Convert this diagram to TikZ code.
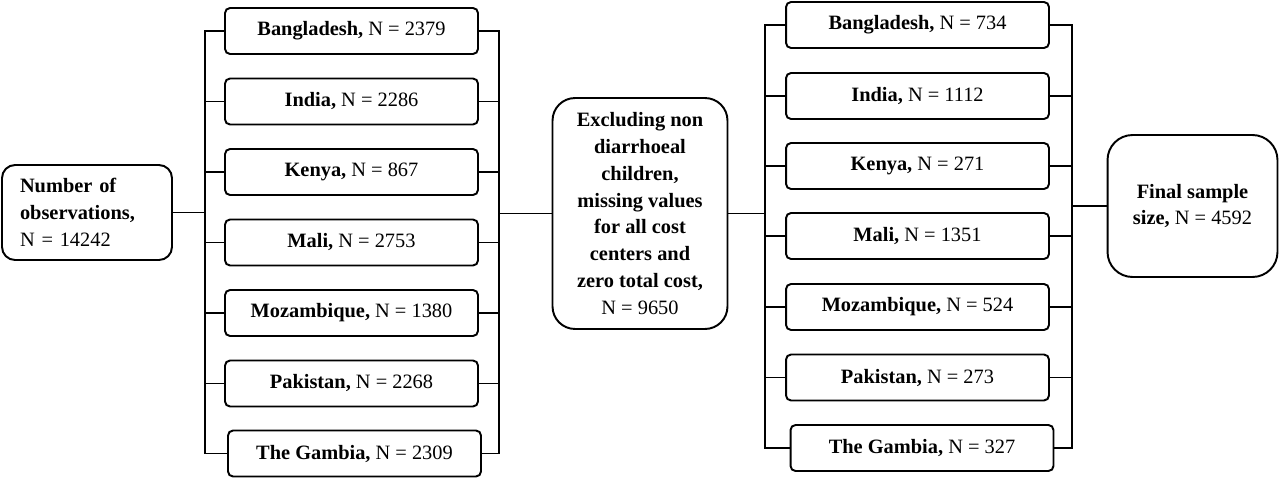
\documentclass[tikz,border=0pt]{standalone}
\usepackage{fontspec}
\setmainfont{Liberation Serif}

\begin{document}
\begin{tikzpicture}[x=0.02cm,y=-0.02cm,line width=1.1pt,line cap=rect,
every node/.style={draw,line cap=butt,font=\fontsize{11.6}{15.3}\selectfont,inner sep=0pt},
country/.style={rounded corners=0.1cm,minimum width=5.06cm,minimum height=0.92cm},
countryB/.style={rounded corners=0.1cm,minimum width=5.26cm,minimum height=0.92cm}]

\useasboundingbox (0,0) rectangle (1280,480);

\node[rounded corners=0.26cm,minimum width=3.4cm,minimum height=1.9cm,
  align=left,text width=2.68cm] (obs) at (87,212.5)
  {\textbf{Number of}\\ \textbf{observations,}\\ N = 14242};

\node[country] (a1) at (351.5,31) {\textbf{Bangladesh,} N = 2379};
\node[country] (a2) at (351.5,101.5) {\textbf{India,} N = 2286};
\node[country] (a3) at (351.5,172) {\textbf{Kenya,} N = 867};
\node[country] (a4) at (351.5,242.5) {\textbf{Mali,} N = 2753};
\node[country] (a5) at (351.5,313) {\textbf{Mozambique,} N = 1380};
\node[country] (a6) at (351.5,383.5) {\textbf{Pakistan,} N = 2268};
\node[country] (a7) at (354.5,453.5) {\textbf{The Gambia,} N = 2309};

\node[rounded corners=0.45cm,minimum width=3.5cm,minimum height=4.62cm,
  align=center] (mid) at (640,213.5)
  {\textbf{Excluding non}\\ \textbf{diarrhoeal}\\ \textbf{children,}\\
   \textbf{missing values}\\ \textbf{for all cost}\\ \textbf{centers and}\\
   \textbf{zero total cost,}\\ N = 9650};

\node[countryB] (b1) at (917.5,25) {\textbf{Bangladesh,} N = 734};
\node[countryB] (b2) at (917.5,96) {\textbf{India,} N = 1112};
\node[countryB] (b3) at (917.5,166) {\textbf{Kenya,} N = 271};
\node[countryB] (b4) at (917.5,236) {\textbf{Mali,} N = 1351};
\node[countryB] (b5) at (917.5,307) {\textbf{Mozambique,} N = 524};
\node[countryB] (b6) at (917.5,377.5) {\textbf{Pakistan,} N = 273};
\node[countryB] (b7) at (922,448) {\textbf{The Gambia,} N = 327};

\node[rounded corners=0.5cm,minimum width=3.4cm,minimum height=2.84cm,
  align=center] (fin) at (1192.5,206)
  {\textbf{Final sample}\\ \textbf{size,} N = 4592};

\coordinate (busA) at (205,0);
\coordinate (busB) at (499,0);
\coordinate (busC) at (765,0);
\coordinate (busD) at (1072,0);

% bus lines
\draw (a1.west -| busA) -- (a7.west -| busA);
\draw (a1.east -| busB) -- (a7.east -| busB);
\draw (b1.west -| busC) -- (b7.west -| busC);
\draw (b1.east -| busD) -- (b7.east -| busD);

% stubs
\draw (obs.east) -- (obs.east -| busA)
(a1.west) -- (a1.west -| busA)
(a2.west) -- (a2.west -| busA)
(a3.west) -- (a3.west -| busA)
(a4.west) -- (a4.west -| busA)
(a5.west) -- (a5.west -| busA)
(a6.west) -- (a6.west -| busA)
(a7.west) -- (a7.west -| busA)
(a1.east) -- (a1.east -| busB)
(a2.east) -- (a2.east -| busB)
(a3.east) -- (a3.east -| busB)
(a4.east) -- (a4.east -| busB)
(a5.east) -- (a5.east -| busB)
(a6.east) -- (a6.east -| busB)
(a7.east) -- (a7.east -| busB)
(mid.west) -- (mid.west -| busB)
(mid.east) -- (mid.east -| busC)
(b1.west) -- (b1.west -| busC)
(b2.west) -- (b2.west -| busC)
(b3.west) -- (b3.west -| busC)
(b4.west) -- (b4.west -| busC)
(b5.west) -- (b5.west -| busC)
(b6.west) -- (b6.west -| busC)
(b7.west) -- (b7.west -| busC)
(b1.east) -- (b1.east -| busD)
(b2.east) -- (b2.east -| busD)
(b3.east) -- (b3.east -| busD)
(b4.east) -- (b4.east -| busD)
(b5.east) -- (b5.east -| busD)
(b6.east) -- (b6.east -| busD)
(b7.east) -- (b7.east -| busD)
(fin.west) -- (fin.west -| busD);
\end{tikzpicture}
\end{document}
